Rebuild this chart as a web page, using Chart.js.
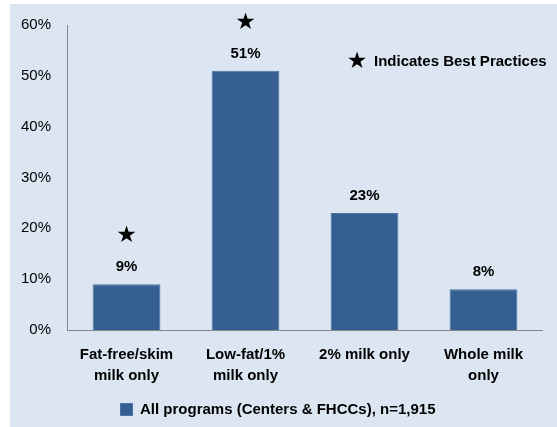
<!DOCTYPE html>
<html>
<head>
<meta charset="utf-8">
<script src="https://cdn.jsdelivr.net/npm/chart.js@4"></script>
<style>
  body { margin: 0; background: #fff; }
  #wrap { position: absolute; left: 10px; top: 4px; width: 547px; height: 423px; background: #dce6f2; }
</style>
</head>
<body>
<div id="wrap"><canvas id="myChart" width="547" height="423"></canvas></div>
<script>
  const categories = [['Fat-free/skim', 'milk only'], ['Low-fat/1%', 'milk only'], '2% milk only', ['Whole milk', 'only']];
  const values = [9, 51, 23, 8];
  const bestPractice = [true, true, false, false];
  const seriesLabel = 'All programs (Centers & FHCCs), n=1,915';
  const noteText = 'Indicates Best Practices';

  const FONT = '"Liberation Sans", Arial, sans-serif';

  // value labels, stars, the best-practice note and the x axis line
  const labelPlugin = {
    id: 'labels',
    afterDatasetsDraw(chart) {
      const c = chart.ctx;
      const area = chart.chartArea;
      const meta = chart.getDatasetMeta(0);
      c.save();
      c.strokeStyle = '#868686';
      c.lineWidth = 1;
      c.beginPath();
      c.moveTo(area.left, Math.round(area.bottom) + 0.5);
      c.lineTo(area.right, Math.round(area.bottom) + 0.5);
      c.stroke();
      c.fillStyle = '#000';
      c.textAlign = 'center';
      c.textBaseline = 'middle';
      meta.data.forEach((bar, i) => {
        c.font = 'bold 15px ' + FONT;
        c.fillText(values[i] + '%', bar.x, bar.y - 17);
        if (bestPractice[i]) {
          c.font = '23px "DejaVu Sans"';
          c.fillText('★', bar.x, bar.y - 48);
        }
      });
      c.font = '23px "DejaVu Sans"';
      c.fillText('★', 347, 58);
      c.textAlign = 'left';
      c.font = 'bold 15px ' + FONT;
      c.fillText(noteText, 364, 58);
      c.restore();
    }
  };

  const ctx = document.getElementById('myChart').getContext('2d');

  const myChart = new Chart(ctx, {
    type: 'bar',
    data: {
      labels: categories,
      datasets: [{
        label: seriesLabel,
        data: values,
        backgroundColor: '#365f91',
        borderColor: '#4a72a4',
        borderWidth: 1,
        categoryPercentage: 1,
        barPercentage: 0.57
      }]
    },
    options: {
      responsive: false,
      animation: false,
      layout: { padding: { left: 3, right: 14, top: 21, bottom: 0 } },
      plugins: {
        legend: {
          position: 'bottom',
          labels: {
            boxWidth: 12,
            boxHeight: 12,
            color: '#000',
            font: { family: FONT, size: 15, weight: 'bold' }
          }
        },
        tooltip: { enabled: false }
      },
      scales: {
        x: {
          grid: { display: false },
          border: { display: false },
          ticks: { color: '#000', font: { family: FONT, size: 15, weight: 'bold', lineHeight: 1.4 }, maxRotation: 0, padding: 6 }
        },
        y: {
          min: 0,
          max: 60,
          grid: { display: false },
          border: { color: '#868686' },
          ticks: {
            stepSize: 10,
            color: '#000',
            padding: 8,
            font: { family: FONT, size: 15 },
            callback: v => v + '%'
          }
        }
      }
    },
    plugins: [labelPlugin]
  });
</script>
</body>
</html>
